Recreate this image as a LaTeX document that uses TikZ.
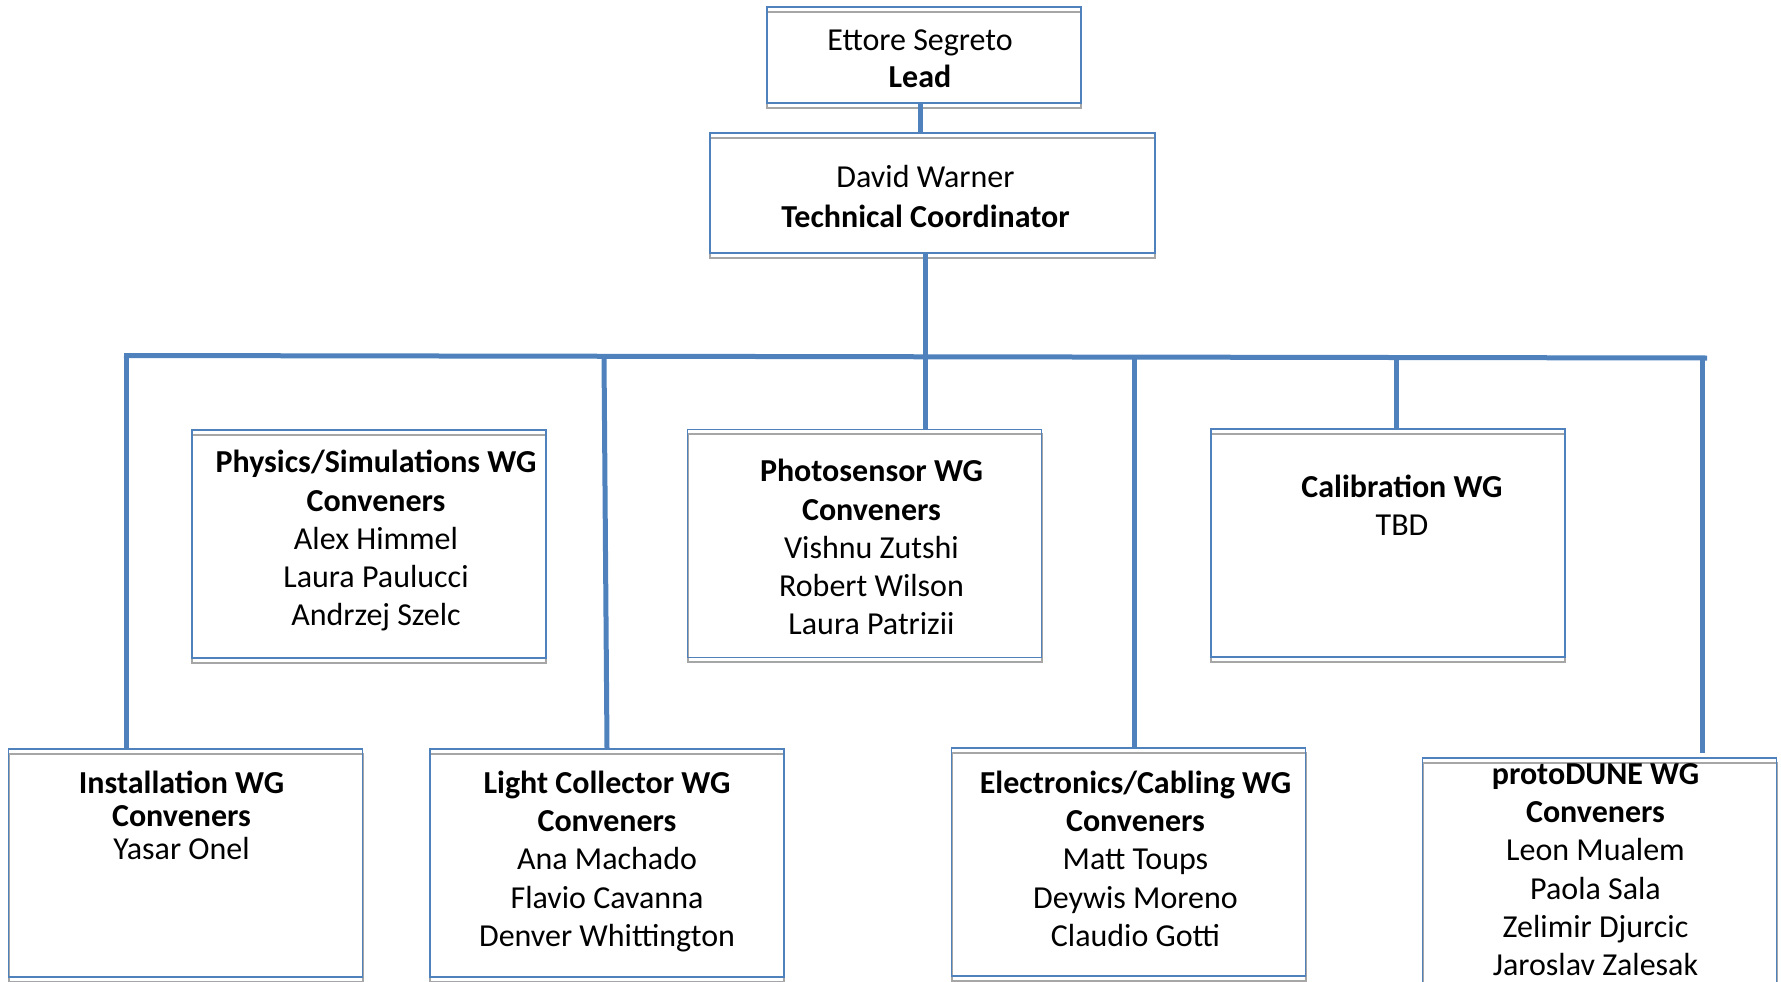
\documentclass[tikz,border=0pt]{standalone}
\usepackage{fontspec}
\setmainfont{Carlito}
\usetikzlibrary{positioning}
\definecolor{orgblue}{RGB}{79,129,189}
\definecolor{boxgray}{RGB}{166,166,166}
\tikzset{orgbox/.style={draw=orgblue, line width=1.5pt, inner sep=0pt,
      preaction={draw=boxgray, line width=2pt, transform canvas={yshift=-4.6pt}}},
    wgbox/.style={orgbox, minimum width=354pt, minimum height=228pt},
    boxtext/.style={align=center, inner sep=0pt, anchor=base,
      font=\fontsize{32}{38.3}\selectfont},
    link/.style={draw=orgblue, line width=5pt},
    }

\begin{document}
\begin{tikzpicture}[x=1pt,y=-1pt]
	\useasboundingbox (0,0) rectangle (1781,982);
	\clip (0,0) rectangle (1781,982);
	% top of the chart
	\node[orgbox, minimum width=314pt, minimum height=96pt] (lead) at (924,55) {};
	\node[orgbox, minimum width=445pt, minimum height=120pt] (coord) at (932.5,193) {};
	% working groups
	\node[wgbox] (phys) at (369,544) {};
	\node[wgbox] (photo) at (864.5,543.5) {};
	\node[wgbox] (calib) at (1388,543) {};
	\node[wgbox] (inst) at (185.5,863) {};
	\node[wgbox] (light) at (607,863) {};
	\node[wgbox] (elec) at (1128.5,862) {};
	\node[wgbox] (proto) at (1599.5,872) {};
	% texts (base = last line)
	\node[boxtext, font=\fontsize{32}{37}\selectfont] (leadT) at ([xshift=-4pt,yshift=-81pt]lead.north) {Ettore Segreto\\\textbf{Lead}};
	\node[boxtext, font=\fontsize{32}{40}\selectfont] (coordT) at ([xshift=-7pt,yshift=-95.5pt]coord.north) {David Warner\\\textbf{Technical Coordinator}};
	\node[boxtext] (physT) at ([xshift=7pt,yshift=-196.7pt]phys.north)
		{\textbf{Physics/Simulations WG}\\\textbf{Conveners}\\Alex Himmel\\Laura Paulucci\\Andrzej Szelc};
	\node[boxtext] (photoT) at ([xshift=7pt,yshift=-206.2pt]photo.north)
		{\textbf{Photosensor WG}\\\textbf{Conveners}\\Vishnu Zutshi\\Robert Wilson\\Laura Patrizii};
	\node[boxtext] (calibT) at ([xshift=14pt,yshift=-107.3pt]calib.north) {\textbf{Calibration WG}\\TBD};
	\node[boxtext, font=\fontsize{32}{33}\selectfont] (instT) at ([xshift=-4pt,yshift=-111pt]inst.north)
		{\textbf{Installation WG}\\\textbf{Conveners}\\Yasar Onel};
	\node[boxtext] (lightT) at ([yshift=-198.2pt]light.north)
		{\textbf{Light Collector WG}\\\textbf{Conveners}\\Ana Machado\\Flavio Cavanna\\Denver Whittington};
	\node[boxtext] (elecT) at ([xshift=7pt,yshift=-199.2pt]elec.north)
		{\textbf{Electronics/Cabling WG}\\\textbf{Conveners}\\Matt Toups\\Deywis Moreno\\Claudio Gotti};
	\node[boxtext] (protoT) at ([xshift=-4pt,yshift=-218.5pt]proto.north)
		{\textbf{protoDUNE WG}\\\textbf{Conveners}\\Leon Mualem\\Paola Sala\\Zelimir Djurcic\\Jaroslav Zalesak};
	% connectors
	\coordinate (busL) at (124,355.5);
	\coordinate (busR) at (1707,358);
	\coordinate (tInst) at (126,355.5);
	\coordinate (tLight) at (604,356);
	\coordinate (tCoord) at (925,356.5);
	\coordinate (tElec) at (1134,357);
	\coordinate (tCalib) at (1396,357.5);
	\coordinate (tProto) at (1702,358);
	\coordinate (eProto) at (1702,753);
	\draw[link] (lead.south -| 920,0) -- (coord.north -| 920,0);
	\draw[link] (busL) -- (busR);
	\draw[link] (coord.south -| tCoord) -- (photo.north -| tCoord);
	\draw[link] (tInst) -- (tInst |- inst.north);
	\draw[link] (tLight) -- (light.north -| 607,0);
	\draw[link] (tElec) -- (tElec |- elec.north);
	\draw[link] (tCalib) -- (tCalib |- calib.north);
	\draw[link] (tProto) -- (eProto);
\end{tikzpicture}
\end{document}
